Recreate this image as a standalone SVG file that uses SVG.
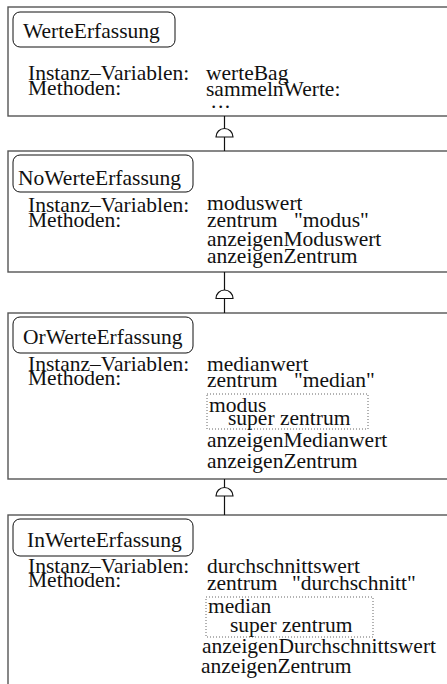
<svg xmlns="http://www.w3.org/2000/svg" width="447" height="684" viewBox="0 0 447 684">
  <style>
    text { font-family: "Liberation Serif", "Times New Roman", serif; font-size: 21.5px; fill: #111; }
    .frame { fill: #fff; stroke: #555; stroke-width: 1.4; }
    .title { fill: #fff; stroke: #111; stroke-width: 1; }
    .inline { fill: none; stroke: #666; stroke-width: 1; stroke-dasharray: 1 2; }
    .link { fill: none; stroke: #111; stroke-width: 1.2; }
    .dome { fill: #fff; stroke: #111; stroke-width: 1.2; }
  </style>

  <!-- class WerteErfassung -->
  <g id="werte-erfassung">
    <rect class="frame" x="8" y="7" width="460" height="109"/>
    <rect class="title" x="13" y="12" width="162" height="35" rx="7"/>
    <text x="23" y="38">WerteErfassung</text>
    <text x="28" y="80">Instanz–Variablen:</text>
    <text x="28" y="95">Methoden:</text>
    <text x="206" y="80">werteBag</text>
    <text x="206" y="96">sammelnWerte:</text>
    <text x="211" y="108" letter-spacing="1.5">...</text>
  </g>

  <!-- class NoWerteErfassung -->
  <g id="no-werte-erfassung">
    <rect class="frame" x="8" y="151" width="460" height="121"/>
    <rect class="title" x="13" y="155" width="180" height="37" rx="7"/>
    <text x="18" y="185">NoWerteErfassung</text>
    <text x="28" y="212">Instanz–Variablen:</text>
    <text x="28" y="227">Methoden:</text>
    <text x="207" y="210">moduswert</text>
    <text x="207" y="227">zentrum<tspan x="294">"modus"</tspan></text>
    <text x="207" y="246">anzeigenModuswert</text>
    <text x="207" y="263">anzeigenZentrum</text>
  </g>

  <!-- class OrWerteErfassung -->
  <g id="or-werte-erfassung">
    <rect class="frame" x="8" y="313" width="460" height="166"/>
    <rect class="title" x="13" y="317" width="180" height="36" rx="7"/>
    <text x="23" y="344">OrWerteErfassung</text>
    <text x="28" y="371">Instanz–Variablen:</text>
    <text x="28" y="385">Methoden:</text>
    <text x="207" y="371">medianwert</text>
    <text x="207" y="387">zentrum<tspan x="294">"median"</tspan></text>
    <rect class="inline" x="207" y="394" width="161" height="35"/>
    <text x="209" y="412">modus</text>
    <text x="228" y="425">super zentrum</text>
    <text x="207" y="447">anzeigenMedianwert</text>
    <text x="207" y="468">anzeigenZentrum</text>
  </g>

  <!-- class InWerteErfassung -->
  <g id="in-werte-erfassung">
    <rect class="frame" x="8" y="515" width="460" height="190"/>
    <rect class="title" x="13" y="519" width="180" height="37" rx="7"/>
    <text x="27" y="547">InWerteErfassung</text>
    <text x="28" y="573">Instanz–Variablen:</text>
    <text x="28" y="587">Methoden:</text>
    <text x="207" y="573">durchschnittswert</text>
    <text x="207" y="590">zentrum<tspan x="292">"durchschnitt"</tspan></text>
    <rect class="inline" x="206" y="597" width="167" height="40"/>
    <text x="208" y="613">median</text>
    <text x="230" y="632">super zentrum</text>
    <text x="202" y="653">anzeigenDurchschnittswert</text>
    <text x="201" y="673">anzeigenZentrum</text>
  </g>

  <!-- inheritance links (subclass up to superclass) -->
  <g id="connectors">
    <line class="link" x1="224.5" y1="116" x2="224.5" y2="151"/>
    <path class="dome" d="M216 137 A8.5 8.5 0 0 1 233 137 Z"/>
    <line class="link" x1="224.5" y1="272" x2="224.5" y2="313"/>
    <path class="dome" d="M216 298.5 A8.5 8.5 0 0 1 233 298.5 Z"/>
    <line class="link" x1="224.5" y1="479" x2="224.5" y2="515"/>
    <path class="dome" d="M216 496 A8.5 8.5 0 0 1 233 496 Z"/>
  </g>
</svg>
